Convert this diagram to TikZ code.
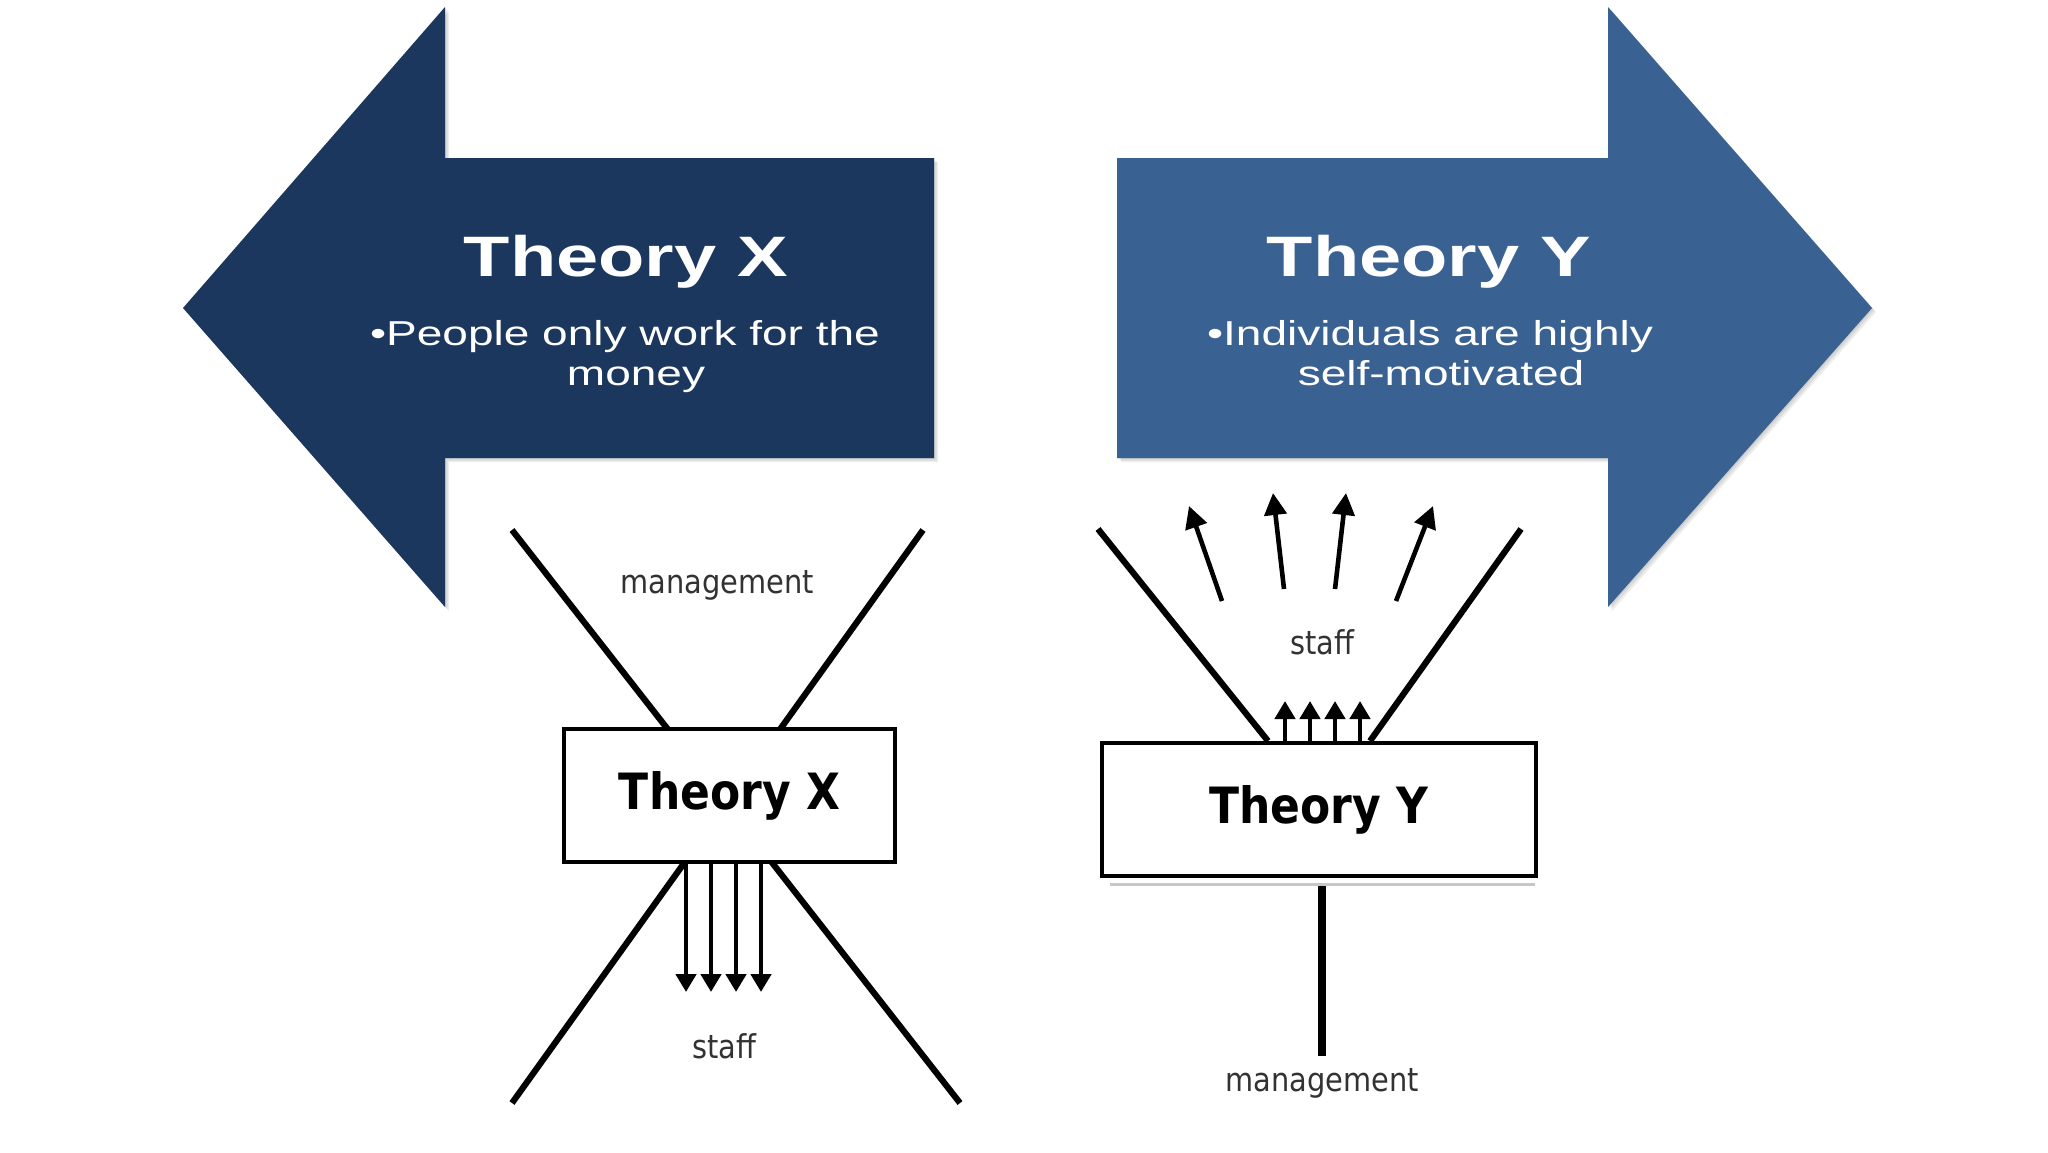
\documentclass[tikz,border=0pt]{standalone}
\usepackage{fontspec}
\usetikzlibrary{arrows.meta}
\newfontfamily\headfont[FakeStretch=1.33]{Liberation Sans}
\newfontfamily\lowfont[FakeStretch=0.88]{DejaVu Sans}
\definecolor{navyX}{RGB}{28,55,94}
\definecolor{blueY}{RGB}{57,97,146}
\definecolor{labelgray}{RGB}{50,50,50}
\begin{document}
\begin{tikzpicture}[x=0.5pt,y=-0.5pt,
  titletext/.style={font=\headfont\bfseries\fontsize{28.5}{34}\selectfont, text=white, inner sep=0pt, anchor=base},
  bullettext/.style={font=\headfont\fontsize{17.3}{20}\selectfont, text=white, inner sep=0pt, anchor=base},
  lbl/.style={font=\lowfont\fontsize{16.4}{20}\selectfont, text=labelgray, inner sep=0pt, anchor=base},
  theorybox/.style={draw=black, line width=2pt, fill=white, inner sep=0pt,
    font=\lowfont\bfseries\fontsize{25}{30}\selectfont, text=black},
  crossline/.style={line width=3.1pt},
  smallarr/.style={line width=2.3pt, -{Triangle[width=10pt,length=9pt]}},
  bigarr/.style={line width=2.3pt, -{Triangle[width=11pt,length=11pt]}},
  shadowfill/.style={fill=black, opacity=0.07}
]
\useasboundingbox (0,0) rectangle (2048,1152);
\fill[white] (0,0) rectangle (2048,1152);

% --- big arrows ---
\foreach \d in {1,2.5,4}{
\fill[shadowfill] (183+\d,308+\d) -- (445+\d,7+\d) -- (445+\d,158+\d) -- (934+\d,158+\d) -- (934+\d,458+\d) -- (445+\d,458+\d) -- (445+\d,607+\d) -- cycle;
\fill[shadowfill] (1872+\d,308+\d) -- (1608+\d,7+\d) -- (1608+\d,158+\d) -- (1117+\d,158+\d) -- (1117+\d,458+\d) -- (1608+\d,458+\d) -- (1608+\d,607+\d) -- cycle;
}
\fill[navyX] (183,308) -- (445,7) -- (445,158) -- (934,158) -- (934,458) -- (445,458) -- (445,607) -- cycle;
\fill[blueY] (1872,308) -- (1608,7) -- (1608,158) -- (1117,158) -- (1117,458) -- (1608,458) -- (1608,607) -- cycle;

\node[titletext] (tX) at (626,276) {Theory X};
\node[bullettext] (bX1) at (625,345) {•People only work for the};
\node[bullettext] (bX2) at (636,385) {money};
\node[titletext] (tY) at (1429,276) {Theory Y};
\node[bullettext] (bY1) at (1430,345) {•Individuals are highly};
\node[bullettext] (bY2) at (1441,385) {self-motivated};

% --- Theory X figure ---
\coordinate (xa1) at (512,530);
\coordinate (xa2) at (960,1103);
\coordinate (xb1) at (923,530);
\coordinate (xb2) at (512,1103);
\draw[crossline] (xa1) -- (xa2);
\draw[crossline] (xb1) -- (xb2);
\node[theorybox, minimum width=165.5pt, minimum height=66.5pt] (boxX) at (729.5,795.5) {Theory X};
\node[lbl] (mgmtX) at (717,593) {management};
\node[lbl] (staffX) at (724,1058) {staff};
\foreach \i/\xx in {1/686,2/711,3/736,4/761}{
  \coordinate (dxs\i) at (\xx,864);
  \coordinate (dxe\i) at (\xx,992);
  \draw[smallarr] (dxs\i) -- (dxe\i);
}

% --- Theory Y figure ---
\coordinate (ya1) at (1098,529);
\coordinate (ya2) at (1268,741);
\coordinate (yb1) at (1521,529);
\coordinate (yb2) at (1370,741);
\draw[crossline] (ya1) -- (ya2);
\draw[crossline] (yb1) -- (yb2);
\draw[line width=1.5pt, black!22] (1110,884) -- (1535,884);
\node[theorybox, minimum width=217pt, minimum height=66.5pt] (boxY) at (1319,809.5) {Theory Y};
\node[lbl] (staffY) at (1322,654) {staff};
\node[lbl] (mgmtY) at (1322,1091) {management};
\foreach \i/\xx in {1/1285,2/1310,3/1335,4/1360}{
  \coordinate (uys\i) at (\xx,742);
  \coordinate (uye\i) at (\xx,701);
  \draw[smallarr] (uys\i) -- (uye\i);
}
\coordinate (fa1) at (1222,601); \coordinate (fb1) at (1189,506);
\coordinate (fa2) at (1284,589); \coordinate (fb2) at (1273,493);
\coordinate (fa3) at (1335,589); \coordinate (fb3) at (1346,493);
\coordinate (fa4) at (1396,601); \coordinate (fb4) at (1433,506);
\foreach \i in {1,...,4}{\draw[bigarr] (fa\i) -- (fb\i);}
\coordinate (vtop) at (1322,886);
\draw[line width=4pt] (vtop) -- (mgmtY.north |- 0,1056);
\end{tikzpicture}
\end{document}
